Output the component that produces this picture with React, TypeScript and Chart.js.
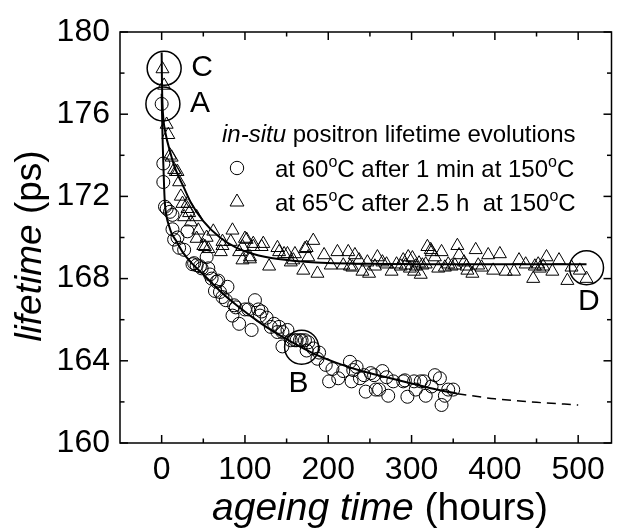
import React, { useEffect, useRef } from "react";
import { Chart, registerables } from "chart.js";

Chart.register(...registerables);

const FONT = "'Liberation Sans', Arial, Helvetica, sans-serif";

// axis ticks
const xTickValues = [0, 100, 200, 300, 400, 500];
const xMinorTicks = [50, 150, 250, 350, 450];
const yTickValues = [160, 164, 168, 172, 176, 180];
const yMinorTicks = [162, 166, 170, 174, 178];

// series 1: at 60°C after 1 min at 150°C (circles)
const circleHours = [
  0, 2, 2, 4, 6, 10, 13, 13, 15, 19, 21, 27, 31, 37, 39, 42, 46, 48, 54, 56,
  58, 60, 64, 66, 68, 70, 73, 77, 79, 85, 87, 89, 93, 100, 104, 108, 112, 116, 118, 120,
  126, 131, 135, 139, 141, 145, 145, 151, 155, 160, 162, 166, 168, 172, 174, 176, 182, 187, 189, 197,
  201, 205, 212, 218, 226, 228, 230, 234, 238, 243, 245, 251, 255, 257, 261, 265, 270, 272, 278, 290,
  292, 295, 303, 305, 311, 315, 317, 324, 328, 334, 336, 340, 344, 350,
];
const circleLifetime = [
  176.5, 173.6, 172.7, 171.5, 171.4, 171.25, 171.1, 170.4, 169.9, 170.0, 169.5, 169.4, 170.3, 168.7, 168.75, 168.65, 168.6, 168.5, 169.05, 168.5,
  168.2, 168.0, 167.4, 167.85, 167.9, 167.35, 167.1, 166.95, 167.6, 166.2, 166.7, 166.6, 165.8, 166.5, 166.5, 165.5, 166.95, 166.5, 166.2, 166.4,
  166.1, 165.65, 165.8, 165.4, 165.65, 165.4, 164.7, 165.5, 165.0, 165.0, 165.0, 165.0, 165.0, 165.0, 164.5, 164.9, 164.6, 164.1, 164.4, 163.8,
  163.0, 163.6, 163.15, 163.5, 163.95, 163.0, 163.55, 163.7, 163.15, 163.3, 162.5, 163.4, 163.3, 162.6, 162.6, 163.5, 163.2, 162.3, 163.0, 163.0,
  163.05, 162.25, 163.0, 162.6, 163.0, 163.0, 162.3, 162.75, 163.3, 163.15, 161.85, 162.3, 162.6, 162.6,
];

// series 2: at 65°C after 2.5 h at 150°C (triangles)
const triangleHours = [
  1, 3, 6, 8, 10, 12, 15, 17, 19, 21, 23, 25, 27, 31, 31, 33, 35, 42, 42, 44,
  50, 52, 54, 56, 62, 71, 73, 73, 83, 85, 93, 97, 97, 100, 102, 106, 106, 110, 110, 120,
  122, 129, 139, 141, 147, 151, 155, 158, 160, 170, 172, 174, 176, 182, 187, 195, 203, 211, 218, 224,
  226, 229, 232, 237, 241, 247, 249, 256, 259, 265, 270, 276, 282, 287, 290, 293, 296, 298, 301, 303,
  305, 309, 311, 313, 317, 319, 323, 324, 328, 332, 336, 340, 344, 348, 352, 355, 357, 363, 366, 367,
  373, 377, 380, 384, 392, 398, 406, 413, 423, 429, 437, 446, 448, 452, 454, 458, 462, 469, 477, 487,
  492, 502, 510,
];
const triangleLifetime = [
  178.2, 177.4, 175.5, 175.0, 174.0, 173.9, 173.3, 173.2, 173.2, 172.7, 172.0, 171.65, 171.0, 171.65, 171.4, 171.2, 170.75, 171.0, 169.95, 170.35,
  169.6, 169.55, 170.0, 169.45, 170.3, 169.3, 169.8, 169.6, 169.8, 170.35, 169.3, 168.9, 169.55, 169.95, 169.9, 169.05, 168.95, 169.7, 169.55, 169.55,
  169.7, 168.6, 169.5, 169.3, 169.2, 169.2, 168.8, 168.9, 169.2, 168.4, 169.45, 169.5, 169.05, 169.85, 168.25, 169.15, 168.65, 169.3, 168.65, 169.3,
  168.6, 168.55, 169.15, 168.9, 168.35, 168.8, 168.25, 168.6, 169.05, 168.8, 168.7, 168.35, 168.7, 168.6, 168.9, 168.65, 169.05, 168.5, 169.0, 168.35,
  168.6, 168.75, 168.2, 168.65, 168.7, 169.55, 169.4, 169.3, 169.05, 168.5, 169.3, 168.55, 168.7, 168.6, 168.65, 169.6, 169.15, 168.8, 168.6, 168.4,
  168.25, 169.4, 168.65, 168.55, 169.15, 168.4, 169.2, 168.35, 168.35, 168.9, 168.7, 168.0, 168.6, 168.7, 168.5, 168.6, 169.05, 168.35, 168.9, 167.9,
  168.55, 168.4, 168.0,
];

// fitted curves
const fit60Hours = [0, 1, 2, 3, 4, 6, 9, 12, 18, 25, 35, 50, 70, 90, 120, 150, 180, 210, 240, 270, 300, 330, 355];
const fit60Lifetime = [177.0, 175.0, 173.6, 172.4, 171.6, 171.0, 170.55, 170.2, 169.8, 169.3, 168.8, 168.2, 167.4, 166.7, 165.8, 165.05, 164.4, 163.9, 163.5, 163.2, 162.9, 162.6, 162.4];
const extrapHours = [355, 400, 450, 500];
const extrapLifetime = [162.4, 162.15, 161.98, 161.85];
const fit65Hours = [0, 0.4, 1, 2, 5, 10, 15, 20, 27, 35, 50, 70, 90, 110, 140, 180, 250, 350, 510];
const fit65Lifetime = [179.0, 177.5, 176.5, 175.8, 175.0, 174.2, 173.5, 173.0, 172.4, 171.7, 170.8, 170.0, 169.5, 169.2, 168.95, 168.8, 168.72, 168.7, 168.7];

// highlighted states
const markHours = [3, 1.5, 168, 510];
const markLifetime = [178.23, 176.5, 164.66, 168.53];
const markLabels = ["C", "A", "B", "D"];

// legend text
const legendTitleItalic = "in-situ";
const legendTitleRest = " positron lifetime evolutions";
const legend1 = ["at 60", "C after 1 min at 150", "C"];
const legend2 = ["at 65", "C after 2.5 h  at 150", "C"];

const pts = (xs: number[], ys: number[]) => xs.map((x, i) => ({ x, y: ys[i] }));

type Part = { t: string; italic?: boolean; sup?: boolean };

function drawParts(ctx: CanvasRenderingContext2D, parts: Part[], x: number, y: number, size: number, supSize: number, rise: number) {
  let cx = x;
  for (const p of parts) {
    const s = p.sup ? supSize : size;
    ctx.font = `${p.italic ? "italic " : ""}${s}px ${FONT}`;
    ctx.fillText(p.t, cx, p.sup ? y - rise : y);
    cx += ctx.measureText(p.t).width;
  }
  return cx - x;
}

function measureParts(ctx: CanvasRenderingContext2D, parts: Part[], size: number) {
  let w = 0;
  for (const p of parts) {
    ctx.font = `${p.italic ? "italic " : ""}${size}px ${FONT}`;
    w += ctx.measureText(p.t).width;
  }
  return w;
}

const decorPlugin = {
  id: "decor",
  afterDraw(chart: any) {
    const { ctx, chartArea: a, scales } = chart;
    const xs = scales.x;
    const ys = scales.y;
    ctx.save();
    ctx.strokeStyle = "#000";
    ctx.fillStyle = "#000";
    ctx.lineWidth = 1.5;
    ctx.strokeRect(a.left, a.top, a.right - a.left, a.bottom - a.top);
    const seg = (x1: number, y1: number, x2: number, y2: number) => {
      ctx.beginPath();
      ctx.moveTo(x1, y1);
      ctx.lineTo(x2, y2);
      ctx.stroke();
    };
    const major = 8;
    const minor = 4.5;
    for (const v of xTickValues) {
      const p = xs.getPixelForValue(v);
      seg(p, a.bottom, p, a.bottom - major);
      seg(p, a.top, p, a.top + major);
    }
    for (const v of xMinorTicks) {
      const p = xs.getPixelForValue(v);
      seg(p, a.bottom, p, a.bottom - minor);
      seg(p, a.top, p, a.top + minor);
    }
    for (const v of yTickValues) {
      const p = ys.getPixelForValue(v);
      seg(a.left, p, a.left + major, p);
      seg(a.right, p, a.right - major, p);
    }
    for (const v of yMinorTicks) {
      const p = ys.getPixelForValue(v);
      seg(a.left, p, a.left + minor, p);
      seg(a.right, p, a.right - minor, p);
    }

    ctx.textBaseline = "alphabetic";
    ctx.textAlign = "left";

    // x title
    const xParts: Part[] = [{ t: "ageing time", italic: true }, { t: " (hours)" }];
    const xw = measureParts(ctx, xParts, 39);
    drawParts(ctx, xParts, 380 - xw / 2, 520, 39, 39, 0);

    // y title
    const yParts: Part[] = [{ t: "lifetime", italic: true }, { t: " (ps)" }];
    const yw = measureParts(ctx, yParts, 37);
    ctx.save();
    ctx.translate(41, 246);
    ctx.rotate(-Math.PI / 2);
    drawParts(ctx, yParts, -yw / 2, 0, 37, 37, 0);
    ctx.restore();

    // legend
    drawParts(ctx, [{ t: legendTitleItalic, italic: true }, { t: legendTitleRest }], 222, 142, 24, 24, 0);
    drawParts(ctx, [{ t: legend1[0] }, { t: "o", sup: true }, { t: legend1[1] }, { t: "o", sup: true }, { t: legend1[2] }], 275, 177, 24, 16, 10);
    drawParts(ctx, [{ t: legend2[0] }, { t: "o", sup: true }, { t: legend2[1] }, { t: "o", sup: true }, { t: legend2[2] }], 275, 211, 24, 16, 10);
    ctx.lineWidth = 1;
    ctx.beginPath();
    ctx.arc(237, 168, 6.7, 0, Math.PI * 2);
    ctx.stroke();
    const tr = 8;
    const tcx = 237;
    const tcy = 202;
    ctx.beginPath();
    ctx.moveTo(tcx, tcy - tr);
    ctx.lineTo(tcx + tr * 0.866, tcy + tr / 2);
    ctx.lineTo(tcx - tr * 0.866, tcy + tr / 2);
    ctx.closePath();
    ctx.stroke();

    // state letters
    const offs = [
      [27, 8],
      [27, 8.5],
      [-13, 45],
      [-8.5, 42.5],
    ];
    ctx.font = `30px ${FONT}`;
    markLabels.forEach((l, i) => {
      const px = xs.getPixelForValue(markHours[i]);
      const py = ys.getPixelForValue(markLifetime[i]);
      ctx.fillText(l, px + offs[i][0], py + offs[i][1]);
    });
    ctx.restore();
  },
};

export default function App() {
  const ref = useRef<HTMLCanvasElement>(null);
  useEffect(() => {
    if (!ref.current) return;
    const tickFont = { family: FONT, size: 32 };
    const chart = new Chart(ref.current, {
      type: "scatter",
      data: {
        datasets: [
          {
            data: pts(fit60Hours, fit60Lifetime),
            showLine: true,
            pointRadius: 0,
            borderColor: "#000",
            borderWidth: 2,
            cubicInterpolationMode: "monotone",
          } as any,
          {
            data: pts(extrapHours, extrapLifetime),
            showLine: true,
            pointRadius: 0,
            borderColor: "#000",
            borderWidth: 1.5,
            borderDash: [9, 6],
            cubicInterpolationMode: "monotone",
          } as any,
          {
            data: pts(fit65Hours, fit65Lifetime),
            showLine: true,
            pointRadius: 0,
            borderColor: "#000",
            borderWidth: 2,
            cubicInterpolationMode: "monotone",
          } as any,
          {
            data: pts(markHours, markLifetime),
            pointStyle: "circle",
            pointRadius: 17,
            pointBorderWidth: 1.5,
            pointBorderColor: "#000",
            pointBackgroundColor: "rgba(0,0,0,0)",
          } as any,
          {
            data: pts(circleHours, circleLifetime),
            pointStyle: "circle",
            pointRadius: 6.5,
            pointBorderWidth: 1,
            pointBorderColor: "#000",
            pointBackgroundColor: "rgba(0,0,0,0)",
          } as any,
          {
            data: pts(triangleHours, triangleLifetime),
            pointStyle: "triangle",
            pointRadius: 7.5,
            pointBorderWidth: 1,
            pointBorderColor: "#000",
            pointBackgroundColor: "rgba(0,0,0,0)",
          } as any,
        ],
      },
      options: {
        responsive: false,
        animation: false,
        devicePixelRatio: 1,
        events: [],
        layout: { padding: { top: 32, right: 1, left: 0, bottom: 0 } },
        plugins: { legend: { display: false }, tooltip: { enabled: false } },
        scales: {
          x: {
            type: "linear",
            min: -50,
            max: 540,
            grid: { display: false, drawTicks: false },
            border: { display: false },
            ticks: { font: tickFont, color: "#000", padding: 8, maxRotation: 0, autoSkip: false },
            afterBuildTicks: (s: any) => {
              s.ticks = xTickValues.map((v) => ({ value: v }));
            },
            afterFit: (s: any) => {
              s.height = 88;
            },
          },
          y: {
            type: "linear",
            min: 160,
            max: 180,
            grid: { display: false, drawTicks: false },
            border: { display: false },
            ticks: { font: tickFont, color: "#000", padding: 10, autoSkip: false },
            afterBuildTicks: (s: any) => {
              s.ticks = yTickValues.map((v) => ({ value: v }));
            },
            afterFit: (s: any) => {
              s.width = 120;
            },
          },
        },
      } as any,
      plugins: [decorPlugin],
    });
    return () => chart.destroy();
  }, []);
  return (
    <div style={{ position: "absolute", left: 0, top: 0, width: 630, height: 531, background: "#fff" }}>
      <canvas ref={ref} width={630} height={531} />
    </div>
  );
}
